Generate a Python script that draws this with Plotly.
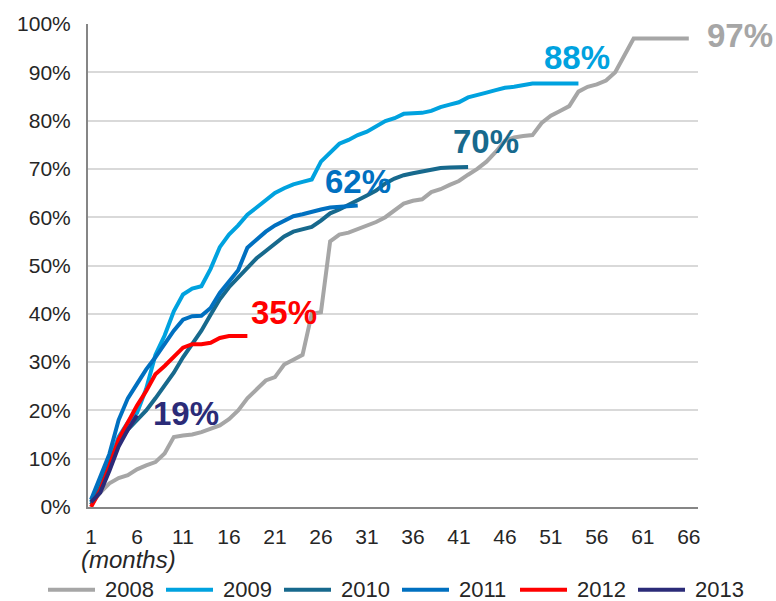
import plotly.graph_objects as go

# Cumulative share by months since start, one series per vintage year
years = ["2008", "2009", "2010", "2011", "2012", "2013"]

v2008 = [0.5, 3.0, 4.9, 6.0, 6.6, 7.8, 8.6, 9.3, 11.1, 14.5,
         14.8, 15.0, 15.5, 16.3, 16.9, 18.2, 20.0, 22.5, 24.5, 26.2,
         26.9, 29.5, 30.5, 31.5, 40.0, 40.3, 55.0, 56.4, 56.8, 57.5,
         58.3, 59.0, 60.0, 61.5, 62.8, 63.4, 63.7, 65.2, 65.8, 66.7,
         67.5, 68.8, 70.0, 71.5, 73.5, 75.8, 76.5, 76.8, 77.0, 79.5,
         81.0, 82.0, 83.0, 86.0, 87.0, 87.5, 88.3, 90.0, 93.5, 97.0,
         97.0, 97.0, 97.0, 97.0, 97.0, 97.0]
v2009 = [1.0, 5.0, 9.5, 14.5, 17.5, 19.5, 24.5, 31.5, 35.5, 40.5,
         44.0, 45.2, 45.7, 49.3, 53.8, 56.4, 58.3, 60.5, 62.0, 63.5,
         65.0, 66.0, 66.8, 67.3, 67.8, 71.5, 73.5, 75.2, 76.0, 77.0,
         77.7, 78.8, 79.9, 80.5, 81.4, 81.5, 81.6, 82.0, 82.8, 83.3,
         83.8, 84.8, 85.4, 85.8, 86.3, 86.8, 87.0, 87.3, 87.7, 87.7,
         87.7, 87.7, 87.7, 87.7]
v2010 = [0.5, 4.0, 9.0, 13.5, 16.0, 18.0, 20.0, 22.5, 25.0, 27.8,
         31.0, 33.8, 36.5, 39.8, 43.0, 45.5, 47.5, 49.5, 51.5, 53.0,
         54.5, 56.0, 57.0, 57.5, 58.0, 59.3, 60.8, 61.6, 62.5, 63.5,
         64.5, 65.5, 67.0, 68.0, 68.7, 69.1, 69.5, 69.9, 70.2, 70.3,
         70.4, 70.4]
v2011 = [1.5, 6.0, 11.0, 18.0, 22.5, 25.5, 28.5, 31.0, 33.8, 36.5,
         38.8, 39.5, 39.6, 41.2, 44.3, 46.5, 49.0, 53.7, 55.3, 57.0,
         58.3, 59.3, 60.2, 60.6, 61.2, 61.6, 62.0, 62.2, 62.3, 62.4]
v2012 = [0.0, 3.5, 8.5, 14.0, 17.5, 21.0, 24.0, 27.5, 29.2, 31.0,
         33.0, 33.7, 33.7, 34.0, 35.0, 35.4, 35.4, 35.4]
v2013 = [1.0, 3.0, 7.5, 12.5, 16.0, 19.0]

series = [v2008, v2009, v2010, v2011, v2012, v2013]
colors = ["#A6A6A6", "#00A2DF", "#17698D", "#0070C0", "#FF0000", "#2B2B78"]

month_ticks = list(range(1, 67, 5))

# end-of-line labels: anchored on the last point of each line, nudged in pixels
label_shift = [(51, 3), (-1, 26), (18, 25), (0, 24), (37, 24), (49, 2)]

FONT = "Liberation Sans, Arial, sans-serif"
TEXT = "#262626"

# plot-area geometry in pixels, used to place the key below the axis
L, R, T, B = 88, 78, 22, 94
W, H = 776, 601
PW, PH = W - L - R, H - T - B


def px_x(px):
    return (px - L) / PW


def px_y(py):
    return (H - B - py) / PH


fig = go.Figure()
for name, vals, col in zip(years, series, colors):
    fig.add_trace(go.Scatter(
        x=list(range(1, len(vals) + 1)), y=vals, name=name, mode="lines",
        line=dict(color=col, width=4), hoverinfo="skip", showlegend=False,
    ))

for vals, col, (dx, dy) in zip(series, colors, label_shift):
    fig.add_annotation(
        x=len(vals), y=vals[-1], xref="x", yref="y", text=f"{round(vals[-1])}%",
        showarrow=False, font=dict(family=FONT, size=33, color=col, weight="bold"),
        xanchor="center", yanchor="middle", xshift=dx, yshift=dy,
    )

fig.add_annotation(
    x=px_x(128), y=px_y(560), xref="paper", yref="paper", text="<i>(months)</i>",
    showarrow=False, xanchor="center", yanchor="middle",
    font=dict(family=FONT, size=24, color=TEXT),
)

# key row: a line sample followed by the year for each series
for i, (name, col) in enumerate(zip(years, colors)):
    x0 = 48 + i * 118
    fig.add_shape(
        type="line", xref="paper", yref="paper",
        x0=px_x(x0), x1=px_x(x0 + 47), y0=px_y(590), y1=px_y(590),
        line=dict(color=col, width=4),
    )
    fig.add_annotation(
        x=px_x(x0 + 55), y=px_y(590), xref="paper", yref="paper", text=name,
        showarrow=False, xanchor="left", yanchor="middle",
        font=dict(family=FONT, size=22, color=TEXT),
    )

fig.update_layout(
    width=W, height=H,
    margin=dict(l=L, r=R, t=T, b=B),
    paper_bgcolor="white", plot_bgcolor="white",
    font=dict(family=FONT, size=21, color=TEXT),
    showlegend=False,
    xaxis=dict(
        range=[0.67, 67.0], tickvals=month_ticks, ticktext=[str(m) for m in month_ticks],
        showgrid=False, zeroline=False, showline=True, linecolor="#868686", linewidth=2,
        ticks="", ticklabelstandoff=10, tickfont=dict(size=21),
    ),
    yaxis=dict(
        range=[0, 100], dtick=10, ticksuffix="%", showgrid=True, gridcolor="#D9D9D9",
        gridwidth=2, zeroline=False, showline=True, linecolor="#868686", linewidth=2,
        ticks="", ticklabelstandoff=11, tickfont=dict(size=21),
    ),
)

fig.write_html("out.html")
